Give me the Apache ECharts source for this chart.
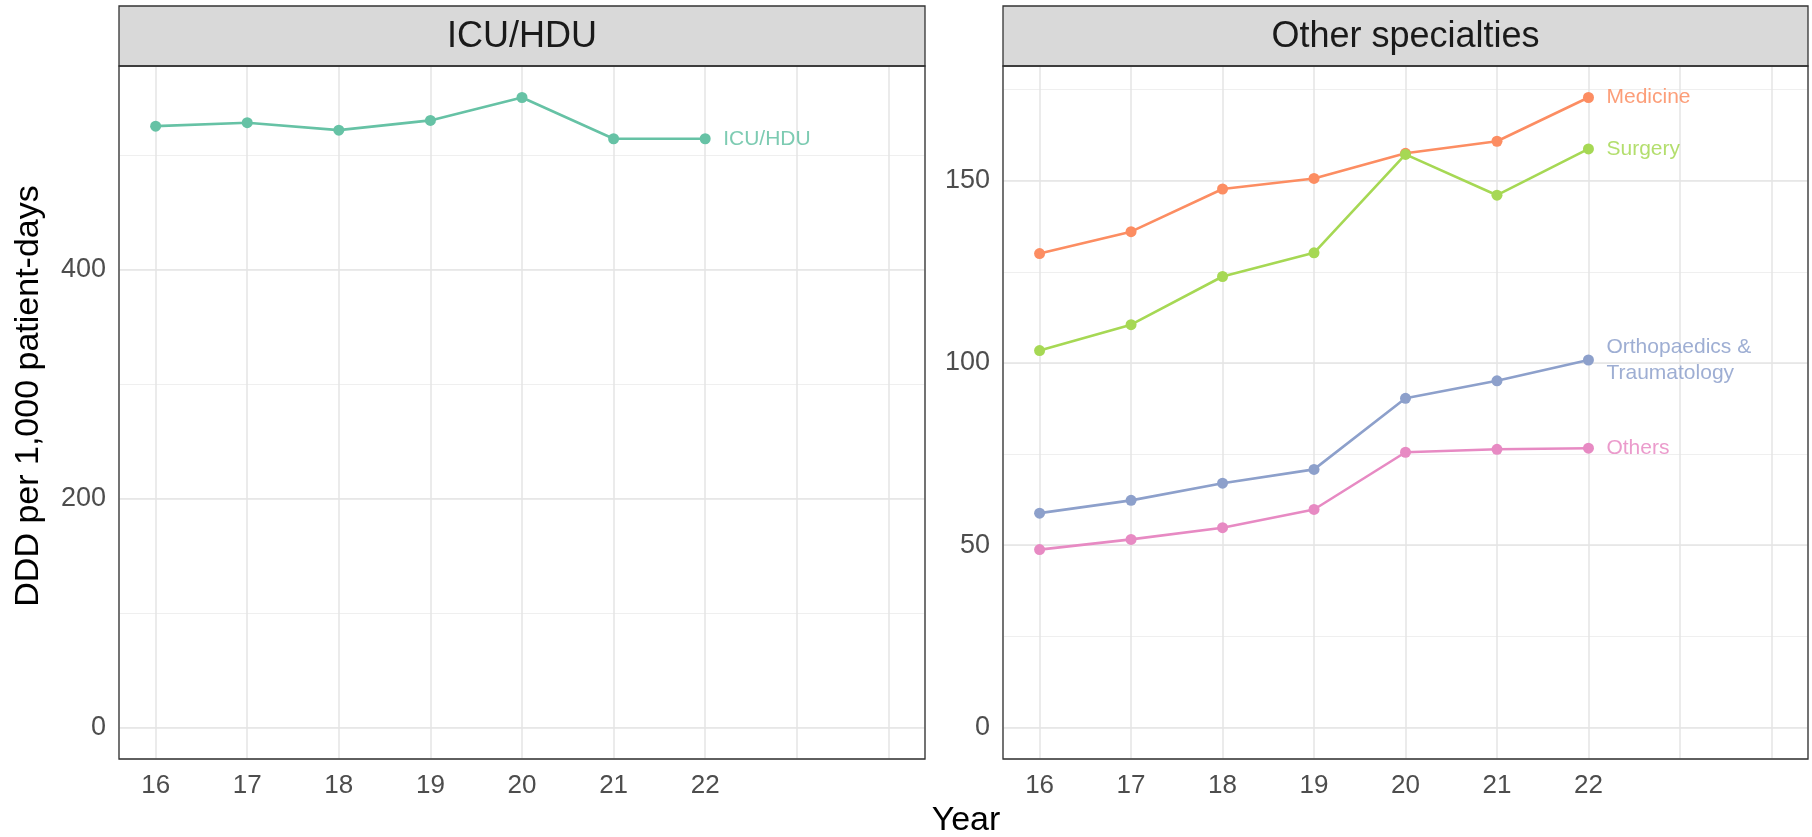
<!DOCTYPE html>
<html><head><meta charset="utf-8">
<script src="https://cdn.jsdelivr.net/npm/echarts@6/dist/echarts.min.js"></script>
<style>html,body{margin:0;padding:0;background:#fff}#c{width:1812px;height:837px}</style>
</head><body><div id="c"></div>
<script>
// ---- data ----
const years = [16, 17, 18, 19, 20, 21, 22];
const xBreaks = [16, 17, 18, 19, 20, 21, 22, 23, 24];
const xTickLabels = ['16', '17', '18', '19', '20', '21', '22'];
const icuHdu = [525, 528, 521.5, 530, 550, 514, 514];
const medicine = [130.0, 136.0, 147.7, 150.6, 157.5, 160.8, 172.8];
const surgery = [103.4, 110.5, 123.7, 130.2, 157.2, 146.0, 158.7];
const orthopaedics = [58.8, 62.3, 67.0, 70.8, 90.3, 95.1, 100.8];
const others = [48.8, 51.6, 54.8, 59.8, 75.5, 76.3, 76.6];
const panelTitles = ['ICU/HDU', 'Other specialties'];
const leftYTicks = [0, 200, 400];
const rightYTicks = [0, 50, 100, 150];
const rightSeriesNames = ['Medicine', 'Surgery', 'Orthopaedics & Traumatology', 'Others'];
const rightSeriesLabels = ['Medicine', 'Surgery', 'Orthopaedics &\nTraumatology', 'Others'];
const yTitle = 'DDD per 1,000 patient-days';
const xTitle = 'Year';

// ---- style ----
const colICU = '#66C2A5';
const rightColors = ['#FC8D62', '#A6D854', '#8DA0CB', '#E78AC3'];
const FONT = '"Liberation Sans", Arial, Helvetica, sans-serif';
const LAY = { lx: 119, lw: 806, rx: 1003, rw: 805, top: 66, h: 693, stripTop: 6, stripH: 60 };

function pts(vals) { return years.map((y, i) => [y, vals[i]]); }
function expanded(lo, hi) { const s = hi - lo; return [lo - 0.05 * s, hi + 0.05 * s]; }

const xr = expanded(Math.min(...xBreaks), Math.max(...xBreaks));
const ylr = expanded(0, Math.max(...icuHdu));
const rightAll = medicine.concat(surgery, orthopaedics, others);
const yrr = expanded(0, Math.max(...rightAll));

const majorGrid = { show: true, lineStyle: { color: '#E4E4E4', width: 1.5 } };
const minorGrid = { show: true, lineStyle: { color: '#EFEFEF', width: 1 } };

function xAxis(gi) {
  return {
    type: 'value', gridIndex: gi, position: 'bottom', min: xr[0], max: xr[1], minInterval: 1, maxInterval: 1,
    axisLine: { show: false }, axisTick: { show: false }, splitLine: majorGrid,
    axisLabel: {
      showMinLabel: false, showMaxLabel: false, margin: 14, fontSize: 26, color: '#4D4D4D', fontFamily: FONT,
      formatter: v => (xTickLabels.indexOf(String(v)) >= 0 ? String(v) : '')
    }
  };
}
function yAxis(gi, ext, step, ticks, minor) {
  return {
    type: 'value', gridIndex: gi, position: 'left', offset: 0, min: ext[0], max: ext[1], minInterval: step, maxInterval: step,
    axisLine: { show: false, onZero: false }, axisTick: { show: false },
    splitLine: minor ? minorGrid : majorGrid,
    axisLabel: minor ? { show: false } : {
      showMinLabel: false, showMaxLabel: false, margin: 13, fontSize: 27, color: '#4D4D4D', fontFamily: FONT,
      formatter: v => (ticks.indexOf(v) >= 0 ? String(v) : '')
    }
  };
}

function lineSeries(name, label, data, color, xi, yi) {
  return {
    type: 'line', name: name, data: pts(data), xAxisIndex: xi, yAxisIndex: yi,
    symbol: 'circle', symbolSize: 11, showAllSymbol: true,
    itemStyle: { color: color }, lineStyle: { color: color, width: 2.6 },
    endLabel: {
      show: true, formatter: () => label, color: color, opacity: 0.85, fontSize: 21,
      fontFamily: FONT, distance: 18, lineHeight: 26, align: 'left'
    },
    z: 5
  };
}

const series = [lineSeries('ICU/HDU', 'ICU/HDU', icuHdu, colICU, 0, 1)];
[medicine, surgery, orthopaedics, others].forEach((d, i) => {
  series.push(lineSeries(rightSeriesNames[i], rightSeriesLabels[i], d, rightColors[i], 1, 3));
});

const panels = [{ x: LAY.lx, w: LAY.lw }, { x: LAY.rx, w: LAY.rw }];
const graphic = [];
panels.forEach((p, i) => {
  graphic.push({ type: 'rect', z: 50, shape: { x: p.x, y: LAY.stripTop, width: p.w, height: LAY.stripH },
    style: { fill: '#D9D9D9', stroke: '#333333', lineWidth: 1.3 } });
  graphic.push({ type: 'text', z: 51, x: p.x + p.w / 2, y: LAY.stripTop + LAY.stripH / 2 + 1,
    style: { text: panelTitles[i], fill: '#1A1A1A', fontSize: 36, fontFamily: FONT, align: 'center', verticalAlign: 'middle' } });
  graphic.push({ type: 'rect', z: 50, shape: { x: p.x, y: LAY.top, width: p.w, height: LAY.h },
    style: { fill: null, stroke: '#333333', lineWidth: 1.3 } });
});
graphic.push({ type: 'text', z: 51, x: 29, y: 396, rotation: Math.PI / 2,
  style: { text: yTitle, fill: '#000', fontSize: 34, fontFamily: FONT, align: 'center', verticalAlign: 'middle' } });
graphic.push({ type: 'text', z: 51, x: 966, y: 821,
  style: { text: xTitle, fill: '#000', fontSize: 34, fontFamily: FONT, align: 'center', verticalAlign: 'middle' } });

const option = {
  animation: false,
  backgroundColor: '#fff',
  grid: [
    { left: LAY.lx, top: LAY.top, width: LAY.lw, height: LAY.h, containLabel: false },
    { left: LAY.rx, top: LAY.top, width: LAY.rw, height: LAY.h, containLabel: false }
  ],
  xAxis: [xAxis(0), xAxis(1)],
  yAxis: [
    yAxis(0, ylr, 100, null, true),
    yAxis(0, ylr, 200, leftYTicks, false),
    yAxis(1, yrr, 25, null, true),
    yAxis(1, yrr, 50, rightYTicks, false)
  ],
  series: series,
  graphic: graphic
};

const chart = echarts.init(document.getElementById('c'), null, { renderer: 'canvas' });
chart.setOption(option);
</script>
</body></html>
